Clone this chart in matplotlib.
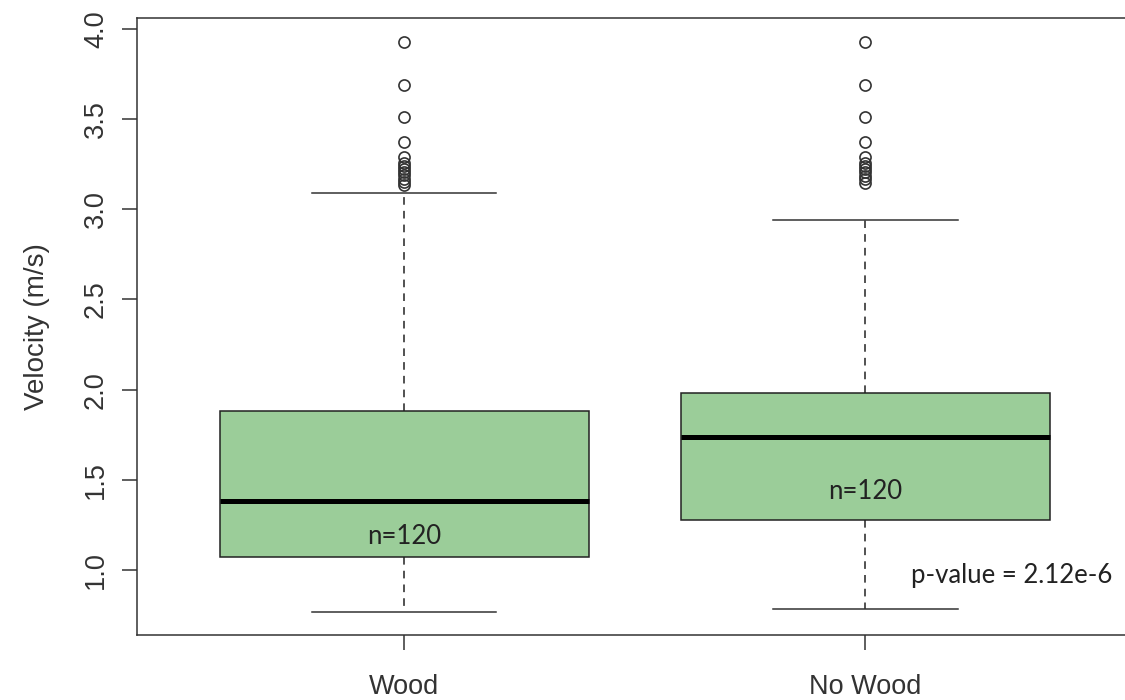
import matplotlib
matplotlib.use("Agg")
import matplotlib.pyplot as plt

# summary stats per group (velocity, m/s)
groups = ["Wood", "No Wood"]
whislo = [0.767, 0.782]
q1 = [1.074, 1.277]
med = [1.384, 1.736]
q3 = [1.882, 1.980]
whishi = [3.092, 2.941]
fliers_wood = [3.930, 3.689, 3.514, 3.375, 3.289, 3.257, 3.240, 3.222,
               3.205, 3.188, 3.170, 3.152, 3.135]
fliers_nowood = [3.930, 3.689, 3.514, 3.375, 3.289, 3.257, 3.240, 3.222,
                 3.205, 3.186, 3.166, 3.146]
n_obs = [120, 120]
n_label_y = [1.185, 1.434]
p_value = "2.12e-6"

fliers = [fliers_wood, fliers_nowood]
stats = []
for i, g in enumerate(groups):
    stats.append(dict(label=g, whislo=whislo[i], q1=q1[i], med=med[i],
                      q3=q3[i], whishi=whishi[i], fliers=fliers[i]))

plt.rcParams['font.family'] = ['Liberation Sans', 'DejaVu Sans']

fig = plt.figure(figsize=(11.25, 7), dpi=100)
ax = fig.add_axes([0.1215, 0.0929, 1.007 - 0.1215, 0.9739 - 0.0929])

ax.bxp(stats, positions=[1, 2], widths=0.8, patch_artist=True,
       boxprops=dict(facecolor="#9bcd99", edgecolor="#222222", linewidth=1.1),
       medianprops=dict(color="black", linewidth=3.6, solid_capstyle="butt"),
       whiskerprops=dict(color="#222222", linewidth=1.1, linestyle=(0, (5, 4))),
       capprops=dict(color="#333333", linewidth=1.1),
       capwidths=0.4,
       flierprops=dict(marker="o", markerfacecolor="none", markeredgecolor="#333333",
                       markersize=8, markeredgewidth=1.2))

ax.set_xlim(0.42, 2.58)
ax.set_ylim(0.640, 4.059)
ax.set_yticks([1.0, 1.5, 2.0, 2.5, 3.0, 3.5, 4.0])
ax.set_yticklabels(["1.0", "1.5", "2.0", "2.5", "3.0", "3.5", "4.0"],
                   rotation=90, va="center")
ax.set_xticks([1, 2])
ax.set_xticklabels(groups)
ax.tick_params(axis="y", length=11, width=1.1, pad=9, labelsize=19.5,
               colors="#333333", labelcolor="#333333")
ax.tick_params(axis="x", length=11, width=1.1, pad=17, labelsize=19.5,
               colors="#333333", labelcolor="#333333")
ax.set_ylabel("Velocity (m/s)", fontsize=20, color="#333333", labelpad=24)
for s in ax.spines.values():
    s.set_linewidth(1.1)
    s.set_color("#333333")

for i in range(len(groups)):
    ax.text(i + 1, n_label_y[i], "n=%d" % n_obs[i], ha="center", va="center",
            fontsize=18.5, family=["Lato", "DejaVu Sans"], color="#222222")
ax.text(2.10, 0.967, "p-value = " + p_value, ha="left", va="center",
        fontsize=18.5, family=["Lato", "DejaVu Sans"], color="#222222")

fig.savefig("out.png", dpi=100)
